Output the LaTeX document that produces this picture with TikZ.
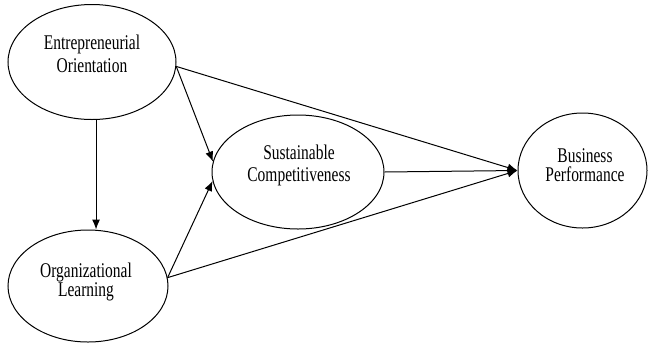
\documentclass[tikz,border=0pt]{standalone}
\usepackage{fontspec}
\setmainfont{Liberation Serif}[FakeStretch=0.74]
\usetikzlibrary{shapes.geometric,arrows.meta}
\tikzset{
 construct/.style={draw,ellipse,line width=1bp,inner sep=0pt},
 conname/.style={inner sep=0pt,align=center,font=\fontsize{21}{23}\selectfont},
 effect/.style={line width=1bp,-{Latex[length=10bp,width=8bp]}}
}
\begin{document}
\begin{tikzpicture}[x=1bp,y=-1bp]
 \useasboundingbox (0,0) rectangle (649,343);
 % constructs
 \node[construct,minimum width=168bp,minimum height=115bp](eo) at (92,62) {};
 \node[construct,minimum width=160bp,minimum height=112bp](ol) at (88,286) {};
 \node[construct,minimum width=172bp,minimum height=114bp](sc) at (298,172) {};
 \node[construct,minimum width=129bp,minimum height=115bp](bp) at (582.5,170.5) {};
 \node[conname](eoname) at (92,54) {Entrepreneurial\\Orientation};
 \node[conname,font=\fontsize{21}{20}\selectfont](olname) at (86,282) {Organizational\\Learning};
 \node[conname](scname) at (299,165.5) {Sustainable\\Competitiveness};
 \node[conname,font=\fontsize{21}{19}\selectfont](bpname) at (585,165) {Business\\Performance};
 % paths
 \draw[effect](eo.-86) -- (eo.-86 |- ol.north);
 \draw[effect](eo.-3) -- (sc.173);
 \draw[effect](ol.6) -- (sc.186);
 \draw[effect](eo.-3) -- (bp.180);
 \draw[effect](ol.6) -- (bp.180);
 \draw[effect](sc.east) -- (bp.180);
\end{tikzpicture}
\end{document}
